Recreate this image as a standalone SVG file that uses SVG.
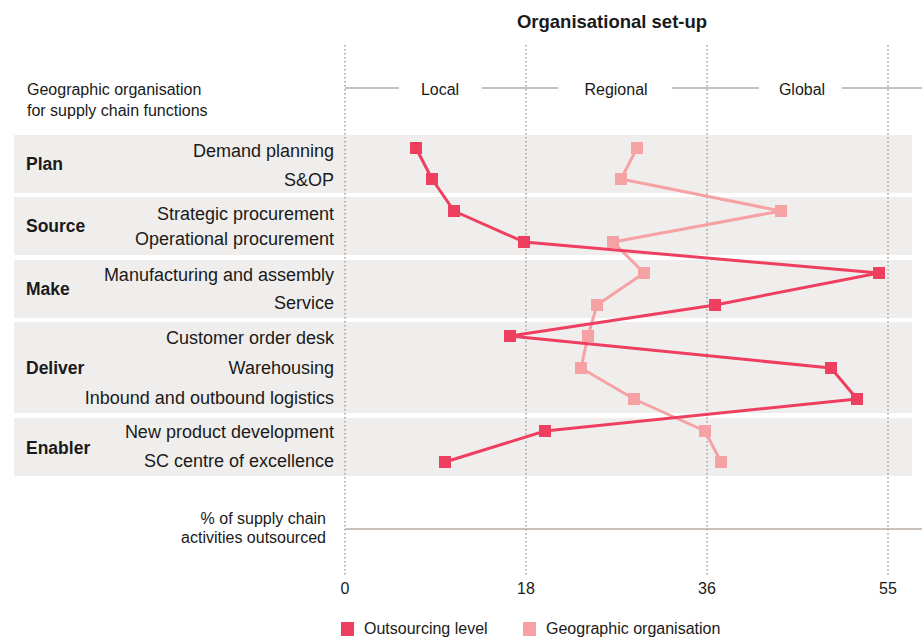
<svg xmlns="http://www.w3.org/2000/svg" width="922" height="639" viewBox="0 0 922 639">
<style>
text{font-family:"Liberation Sans",Arial,sans-serif;fill:#1a1a1a}
.row{font-size:18px;text-anchor:end}
.grp{font-size:17.5px;font-weight:bold}
.hd{font-size:16px}
.ax{font-size:16px;text-anchor:middle}
.band{fill:#f0eeec}
.dot{stroke:#aba29d;stroke-width:1.6;stroke-dasharray:1.6 2.4;fill:none}
.hl{stroke:#b8aca5;stroke-width:1.5;fill:none}
.out{stroke:#ef3f60;stroke-width:3;fill:none;stroke-linejoin:round}
.geo{stroke:#f6a2a4;stroke-width:3;fill:none;stroke-linejoin:round}
.mo{fill:#ef3f60}
.mg{fill:#f6a2a4}
</style>
<rect width="922" height="639" fill="#ffffff"/>
<g id="bands">
<rect class="band" x="14" y="135" width="898" height="58"/>
<rect class="band" x="14" y="197" width="898" height="58"/>
<rect class="band" x="14" y="260" width="898" height="58"/>
<rect class="band" x="14" y="322" width="898" height="91"/>
<rect class="band" x="14" y="418" width="898" height="58"/>
</g>
<text x="612" y="28" style="font-size:18.5px;font-weight:bold" text-anchor="middle">Organisational set-up</text>
<g id="grid">
<line class="dot" x1="345" y1="45" x2="345" y2="577"/>
<line class="dot" x1="526" y1="45" x2="526" y2="577"/>
<line class="dot" x1="707" y1="45" x2="707" y2="577"/>
<line class="dot" x1="888" y1="45" x2="888" y2="577"/>
<line class="hl" x1="345" y1="88" x2="399" y2="88"/>
<line class="hl" x1="482" y1="88" x2="558" y2="88"/>
<line class="hl" x1="672" y1="88" x2="759" y2="88"/>
<line class="hl" x1="842" y1="88" x2="922" y2="88"/>
<line class="hl" x1="345" y1="529" x2="922" y2="529"/>
</g>
<g id="header">
<text class="hd" x="440" y="95" text-anchor="middle">Local</text>
<text class="hd" x="616" y="95" text-anchor="middle">Regional</text>
<text class="hd" x="802" y="95" text-anchor="middle">Global</text>
<text class="hd" x="27" y="95">Geographic organisation</text>
<text class="hd" x="27" y="116">for supply chain functions</text>
</g>
<g id="groups">
<text class="grp" x="26" y="170">Plan</text>
<text class="grp" x="26" y="232">Source</text>
<text class="grp" x="26" y="295">Make</text>
<text class="grp" x="26" y="374">Deliver</text>
<text class="grp" x="26" y="454">Enabler</text>
</g>
<g id="rows">
<text class="row" x="334" y="157">Demand planning</text>
<text class="row" x="334" y="186">S&amp;OP</text>
<text class="row" x="334" y="220">Strategic procurement</text>
<text class="row" x="334" y="245">Operational procurement</text>
<text class="row" x="334" y="281">Manufacturing and assembly</text>
<text class="row" x="334" y="309">Service</text>
<text class="row" x="334" y="344">Customer order desk</text>
<text class="row" x="334" y="374">Warehousing</text>
<text class="row" x="334" y="404">Inbound and outbound logistics</text>
<text class="row" x="334" y="438">New product development</text>
<text class="row" x="334" y="467">SC centre of excellence</text>
</g>
<g id="connectors">
<polyline class="geo" points="637,148 621,179 781,211 613,242 644,273 597,305 588,336 581,368 634,399 705,431 721,462"/>
<polyline class="out" points="416,148 432,179 454,211 524,242 879,273 715,305 510,336 831,368 857,399 545,431 445,462"/>
</g>
<g id="geo-markers" class="mg">
<rect x="631" y="142" width="12" height="12"/>
<rect x="615" y="173" width="12" height="12"/>
<rect x="775" y="205" width="12" height="12"/>
<rect x="607" y="236" width="12" height="12"/>
<rect x="638" y="267" width="12" height="12"/>
<rect x="591" y="299" width="12" height="12"/>
<rect x="582" y="330" width="12" height="12"/>
<rect x="575" y="362" width="12" height="12"/>
<rect x="628" y="393" width="12" height="12"/>
<rect x="699" y="425" width="12" height="12"/>
<rect x="715" y="456" width="12" height="12"/>
</g>
<g id="out-markers" class="mo">
<rect x="410" y="142" width="12" height="12"/>
<rect x="426" y="173" width="12" height="12"/>
<rect x="448" y="205" width="12" height="12"/>
<rect x="518" y="236" width="12" height="12"/>
<rect x="873" y="267" width="12" height="12"/>
<rect x="709" y="299" width="12" height="12"/>
<rect x="504" y="330" width="12" height="12"/>
<rect x="825" y="362" width="12" height="12"/>
<rect x="851" y="393" width="12" height="12"/>
<rect x="539" y="425" width="12" height="12"/>
<rect x="439" y="456" width="12" height="12"/>
</g>
<g id="axis">
<text class="hd" x="326" y="524" text-anchor="end">% of supply chain</text>
<text class="hd" x="326" y="543" text-anchor="end">activities outsourced</text>
<text class="ax" x="345" y="594">0</text>
<text class="ax" x="526" y="594">18</text>
<text class="ax" x="707" y="594">36</text>
<text class="ax" x="888" y="594">55</text>
</g>
<g id="legend">
<rect class="mo" x="341" y="622" width="13" height="14"/>
<text class="hd" x="364" y="634">Outsourcing level</text>
<rect class="mg" x="523" y="622" width="13" height="14"/>
<text class="hd" x="546" y="634">Geographic organisation</text>
</g>
</svg>
